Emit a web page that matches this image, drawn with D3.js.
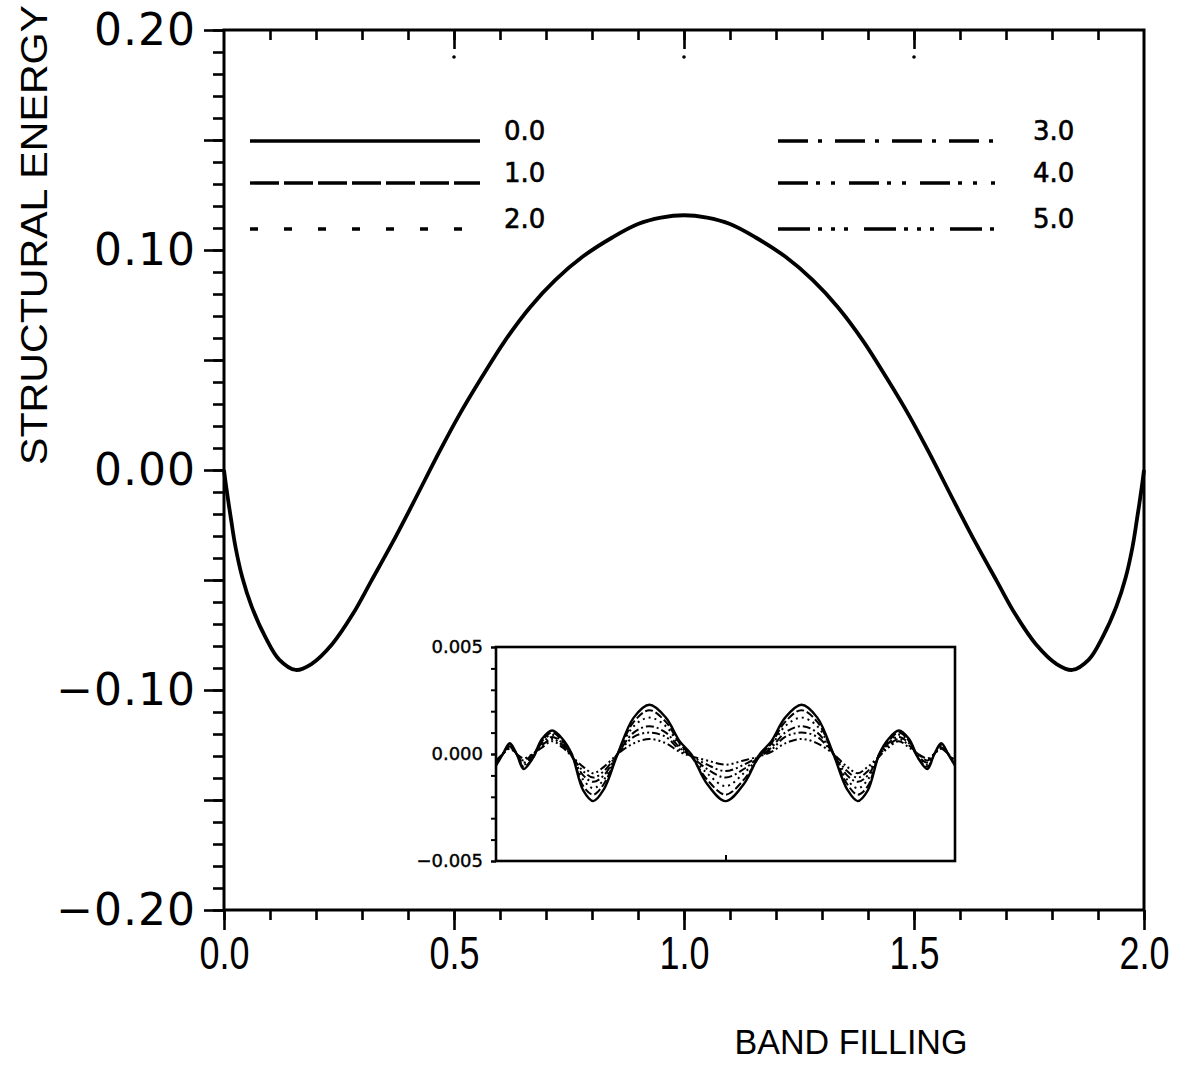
<!DOCTYPE html>
<html>
<head>
<meta charset="utf-8">
<script src="https://cdn.jsdelivr.net/npm/d3@7"></script>
<style>
  body { margin: 0; background: #fff; }
  svg { display: block; }
</style>
</head>
<body>
<svg id="chart"></svg>
<script>
// band filling vs structural energy (all six curves overlap in the main panel)
let mainX = [0, 0.005, 0.015, 0.025, 0.04, 0.06, 0.09, 0.12, 0.156, 0.19, 0.235, 0.28, 0.32, 0.365, 0.41, 0.47, 0.51, 0.56, 0.61, 0.665, 0.72, 0.78, 0.845, 0.9, 0.95, 1.0,
             1.05, 1.1, 1.155, 1.22, 1.28, 1.335, 1.39, 1.44, 1.49, 1.53, 1.59, 1.635, 1.68, 1.72, 1.765, 1.81, 1.844, 1.88, 1.91, 1.94, 1.96, 1.975, 1.985, 1.995, 2.0]
let mainY = [0, -0.008, -0.022, -0.035, -0.049, -0.062, -0.076, -0.0862, -0.0909, -0.0882, -0.0792, -0.0655, -0.0505, -0.0335, -0.0155, 0.009, 0.0245, 0.042, 0.0585, 0.0739, 0.0863, 0.097, 0.1058, 0.1118, 0.1147, 0.1158,
             0.1147, 0.1118, 0.1058, 0.097, 0.0863, 0.0739, 0.0585, 0.042, 0.0245, 0.009, -0.0155, -0.0335, -0.0505, -0.0655, -0.0792, -0.0882, -0.0909, -0.0862, -0.076, -0.062, -0.049, -0.035, -0.022, -0.008, 0]

// inset: small differences between the curves
let insetX = [0, 0.03, 0.06, 0.09, 0.12, 0.16, 0.2, 0.245, 0.29, 0.33, 0.38, 0.424, 0.47, 0.53, 0.6, 0.669, 0.74, 0.8, 0.85, 0.92, 1.0,
              1.08, 1.15, 1.2, 1.26, 1.331, 1.4, 1.47, 1.53, 1.576, 1.62, 1.67, 1.71, 1.755, 1.8, 1.84, 1.88, 1.91, 1.94, 1.97, 2.0]
let inset00 = [-0.00055, 0, 0.0005, 0, -0.0007, -0.0002, 0.0007, 0.0011, 0.0007, 0, -0.0017, -0.0022, -0.00165, 0, 0.0017, 0.0023, 0.0017, 0.0006, 0, -0.0014, -0.0022,
               -0.0014, 0, 0.0006, 0.0017, 0.0023, 0.0017, 0, -0.00165, -0.0022, -0.0017, 0, 0.0007, 0.0011, 0.0007, -0.0002, -0.0007, 0, 0.0005, 0, -0.00055]
let inset10 = [-0.0005, 0, 0.00045, 0, -0.0006, -0.0002, 0.0006, 0.001, 0.0006, 0, -0.0015, -0.0019, -0.0014, 0, 0.0015, 0.00205, 0.0015, 0.0005, -0.0001, -0.0012, -0.0019,
               -0.0012, -0.0001, 0.0005, 0.0015, 0.00205, 0.0015, 0, -0.0014, -0.0019, -0.0015, 0, 0.0006, 0.001, 0.0006, -0.0002, -0.0006, 0, 0.00045, 0, -0.0005]
let inset20 = [-0.00045, 0, 0.0004, 0, -0.0005, -0.0001, 0.0006, 0.0009, 0.0005, -0.0001, -0.0012, -0.0016, -0.0012, 0, 0.0013, 0.0017, 0.0013, 0.0004, -0.0001, -0.0009, -0.0015,
               -0.0009, -0.0001, 0.0004, 0.0013, 0.0017, 0.0013, 0, -0.0012, -0.0016, -0.0012, -0.0001, 0.0005, 0.0009, 0.0006, -0.0001, -0.0005, 0, 0.0004, 0, -0.00045]
let inset30 = [-0.0004, 0, 0.00035, 0, -0.0004, -0.0001, 0.0005, 0.0008, 0.0005, -0.0001, -0.001, -0.0013, -0.001, 0, 0.001, 0.0013, 0.001, 0.0003, -0.0001, -0.0007, -0.0011,
               -0.0007, -0.0001, 0.0003, 0.001, 0.0013, 0.001, 0, -0.001, -0.0013, -0.001, -0.0001, 0.0005, 0.0008, 0.0005, -0.0001, -0.0004, 0, 0.00035, 0, -0.0004]
let inset40 = [-0.00035, 0, 0.0003, 0, -0.0003, 0, 0.0004, 0.0007, 0.0004, -0.0001, -0.0008, -0.0011, -0.0008, 0, 0.0008, 0.001, 0.0008, 0.0002, -0.0001, -0.0005, -0.0008,
               -0.0005, -0.0001, 0.0002, 0.0008, 0.001, 0.0008, 0, -0.0008, -0.0011, -0.0008, -0.0001, 0.0004, 0.0007, 0.0004, 0, -0.0003, 0, 0.0003, 0, -0.00035]
let inset50 = [-0.0003, 0, 0.00025, 0, -0.0002, 0, 0.0003, 0.0006, 0.0003, -0.0001, -0.0006, -0.0009, -0.0006, 0, 0.0005, 0.0007, 0.0005, 0.0001, -0.0001, -0.0003, -0.0005,
               -0.0003, -0.0001, 0.0001, 0.0005, 0.0007, 0.0005, 0, -0.0006, -0.0009, -0.0006, -0.0001, 0.0003, 0.0006, 0.0003, 0, -0.0002, 0, 0.00025, 0, -0.0003]

let seriesLabels = ["0.0", "1.0", "2.0", "3.0", "4.0", "5.0"]
let insetSeries = [inset00, inset10, inset20, inset30, inset40, inset50]

let xTicks = [0, 0.5, 1.0, 1.5, 2.0]
let yTicks = [-0.2, -0.1, 0, 0.1, 0.2]
let insetYTicks = [-0.005, 0, 0.005]

// line styles: legend size and inset size
let bigDash = ["none", "29,5", "8,26", "30,10,4,13", "30,8,4,11,4,14", "32,8,4,9,4,9,4,16"]
let smallDash = ["none", "8,3", "2,4", "8,3,2,3", "8,3,2,3,2,3", "8,3,2,3,2,3,2,3"]

let width = 1193
let height = 1070

let svg = d3.select("#chart")
svg.attr("width", width)
svg.attr("height", height)

let xScale = d3.scaleLinear().domain([0, 2]).range([224, 1144])
let yScale = d3.scaleLinear().domain([-0.2, 0.2]).range([910, 30])

let ixScale = d3.scaleLinear().domain([0, 2]).range([496, 955])
let iyScale = d3.scaleLinear().domain([-0.005, 0.005]).range([861, 647])

let fmt2 = d3.format(".2f")
let fmt1 = d3.format(".1f")
let fmt3 = d3.format(".3f")

let drawAxes = () => {
  // minor ticks on left every 0.01
  svg.append("g")
     .attr("transform", "translate(" + xScale(0) + ",0)")
     .call(d3.axisLeft(yScale).tickValues(d3.range(-20, 21).map(d => d / 100)).tickSize(11).tickFormat(""))
     .call(g => g.select(".domain").remove())
  // ticks every 0.05, labels every 0.1
  svg.append("g")
     .attr("class", "yaxis")
     .attr("transform", "translate(" + xScale(0) + ",0)")
     .call(d3.axisLeft(yScale).tickValues(d3.range(-4, 5).map(d => d * 0.05)).tickSize(20).tickPadding(8)
       .tickFormat(d => yTicks.some(t => Math.abs(t - d) < 1e-9) ? fmt2(d) : ""))
     .call(g => g.select(".domain").remove())

  // bottom ticks
  svg.append("g")
     .attr("transform", "translate(0," + yScale(-0.2) + ")")
     .call(d3.axisBottom(xScale).tickValues(d3.range(0, 21).map(d => d / 10)).tickSize(10).tickFormat(""))
     .call(g => g.select(".domain").remove())
  svg.append("g")
     .attr("class", "xaxis")
     .attr("transform", "translate(0," + yScale(-0.2) + ")")
     .call(d3.axisBottom(xScale).tickValues(xTicks).tickSize(20).tickPadding(6).tickFormat(fmt1))
     .call(g => g.select(".domain").remove())

  // top ticks pointing inward
  svg.append("g")
     .attr("transform", "translate(0," + yScale(0.2) + ")")
     .call(d3.axisTop(xScale).tickValues(d3.range(1, 20).map(d => d / 10)).tickSize(-10).tickFormat(""))
     .call(g => g.select(".domain").remove())
  svg.append("g")
     .attr("transform", "translate(0," + yScale(0.2) + ")")
     .call(d3.axisTop(xScale).tickValues([0.5, 1.0, 1.5]).tickSize(-19).tickFormat(""))
     .call(g => g.select(".domain").remove())
  svg.selectAll(".topdot")
     .data([0.5, 1.0, 1.5])
     .enter()
     .append("circle")
     .attr("cx", d => xScale(d))
     .attr("cy", yScale(0.2) + 27)
     .attr("r", 1.8)
     .attr("fill", "#000")

  svg.selectAll(".tick line").attr("stroke", "#000").attr("stroke-width", 2.6)

  // frame
  svg.append("rect")
     .attr("x", xScale(0))
     .attr("y", yScale(0.2))
     .attr("width", xScale(2) - xScale(0))
     .attr("height", yScale(-0.2) - yScale(0.2))
     .attr("fill", "none")
     .attr("stroke", "#000")
     .attr("stroke-width", 3)

  svg.selectAll(".yaxis text")
     .attr("font-family", "DejaVu Sans")
     .attr("font-size", 44)
     .attr("letter-spacing", 1)
     .attr("fill", "#000")
  svg.selectAll(".xaxis text")
     .attr("font-family", "Liberation Sans")
     .attr("font-size", 46)
     .attr("textLength", 50)
     .attr("lengthAdjust", "spacingAndGlyphs")
     .attr("fill", "#000")

  svg.append("text")
     .attr("transform", "translate(47,235) rotate(-90)")
     .attr("text-anchor", "middle")
     .attr("font-family", "Liberation Sans")
     .attr("font-size", 37)
     .attr("textLength", 460)
     .attr("lengthAdjust", "spacingAndGlyphs")
     .text("STRUCTURAL ENERGY")

  svg.append("text")
     .attr("x", 851)
     .attr("y", 1054)
     .attr("text-anchor", "middle")
     .attr("font-family", "Liberation Sans")
     .attr("font-size", 35)
     .attr("textLength", 233)
     .attr("lengthAdjust", "spacingAndGlyphs")
     .text("BAND FILLING")
}

let drawMain = () => {
  let line = d3.line()
               .x((d, i) => xScale(mainX[i]))
               .y(d => yScale(d))
               .curve(d3.curveCatmullRom.alpha(0.5))
  svg.append("path")
     .datum(mainY)
     .attr("d", line)
     .attr("fill", "none")
     .attr("stroke", "#000")
     .attr("stroke-width", 3.8)
}

let drawLegend = () => {
  let rows = [141, 183, 229]
  let g = svg.append("g")
  seriesLabels.forEach((lab, i) => {
    let col = i < 3 ? 0 : 1
    let y = rows[i % 3]
    let x0 = col == 0 ? 250 : 778
    let x1 = col == 0 ? (i == 2 ? 462 : 480) : 995
    g.append("line")
     .attr("x1", x0).attr("x2", x1)
     .attr("y1", y).attr("y2", y)
     .attr("stroke", "#000")
     .attr("stroke-width", 3.4)
     .attr("stroke-dasharray", bigDash[i])
    g.append("text")
     .attr("x", col == 0 ? 504 : 1033)
     .attr("y", y - 1)
     .attr("font-family", "DejaVu Sans")
     .attr("font-size", 26)
     .attr("stroke", "#000")
     .attr("stroke-width", 0.6)
     .text(lab)
  })
}

let drawInset = () => {
  let g = svg.append("g")

  g.append("clipPath")
   .attr("id", "insetclip")
   .append("rect")
   .attr("x", ixScale(0)).attr("y", iyScale(0.005))
   .attr("width", ixScale(2) - ixScale(0))
   .attr("height", iyScale(-0.005) - iyScale(0.005))

  let line = d3.line()
               .x((d, i) => ixScale(insetX[i]))
               .y(d => iyScale(d))
               .curve(d3.curveCatmullRom)

  g.selectAll(".iline")
   .data(insetSeries)
   .enter()
   .append("path")
   .attr("clip-path", "url(#insetclip)")
   .attr("d", line)
   .attr("fill", "none")
   .attr("stroke", "#000")
   .attr("stroke-width", (d, i) => i == 0 ? 2.4 : 2)
   .attr("stroke-dasharray", (d, i) => smallDash[i])

  // small ticks on left every 0.001
  g.append("g")
   .attr("transform", "translate(" + ixScale(0) + ",0)")
   .call(d3.axisLeft(iyScale).tickValues(d3.range(-5, 6).map(d => d / 1000)).tickSize(5).tickFormat(""))
   .call(a => a.select(".domain").remove())
  g.append("g")
   .attr("class", "iyaxis")
   .attr("transform", "translate(" + ixScale(0) + ",0)")
   .call(d3.axisLeft(iyScale).tickValues(insetYTicks).tickSize(5).tickPadding(8).tickFormat(fmt3))
   .call(a => a.select(".domain").remove())
  g.append("g")
   .attr("transform", "translate(0," + iyScale(-0.005) + ")")
   .call(d3.axisBottom(ixScale).tickValues([1.0]).tickSize(-6).tickFormat(""))
   .call(a => a.select(".domain").remove())

  g.selectAll(".tick line").attr("stroke", "#000").attr("stroke-width", 2)
  g.selectAll(".iyaxis text")
   .attr("font-family", "DejaVu Sans")
   .attr("font-size", 18)
   .attr("stroke", "#000")
   .attr("stroke-width", 0.4)
   .attr("fill", "#000")

  g.append("rect")
   .attr("x", ixScale(0))
   .attr("y", iyScale(0.005))
   .attr("width", ixScale(2) - ixScale(0))
   .attr("height", iyScale(-0.005) - iyScale(0.005))
   .attr("fill", "none")
   .attr("stroke", "#000")
   .attr("stroke-width", 2.6)
}

drawAxes()
drawMain()
drawLegend()
drawInset()
</script>
</body>
</html>
